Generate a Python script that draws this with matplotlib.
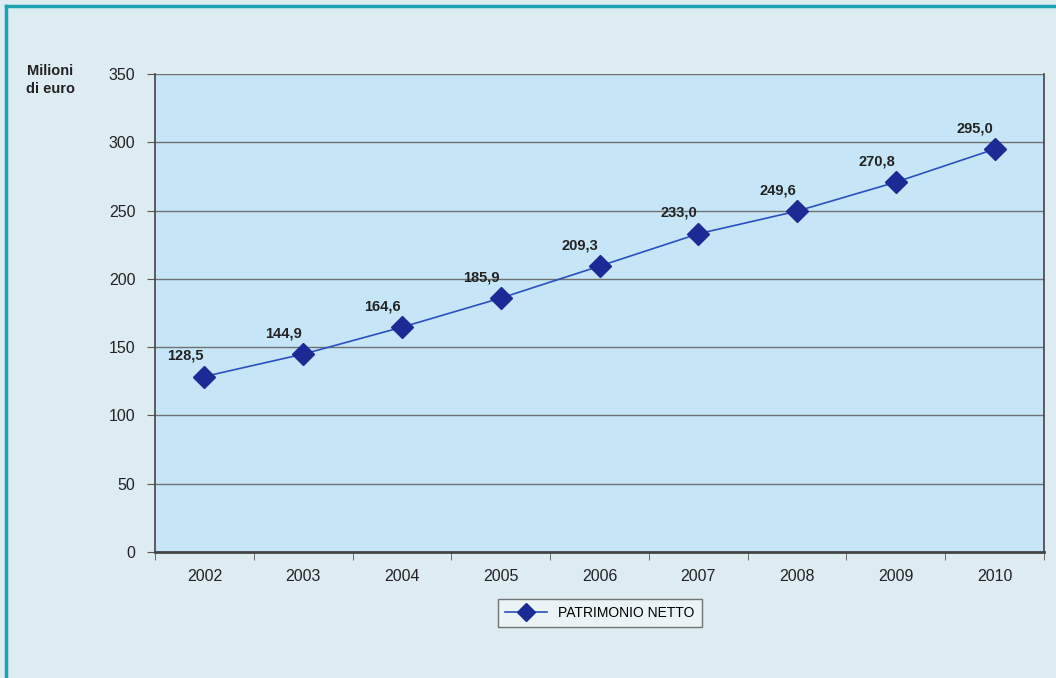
import matplotlib
matplotlib.use("Agg")
import matplotlib.pyplot as plt
from matplotlib.lines import Line2D

years = ["2002", "2003", "2004", "2005", "2006", "2007", "2008", "2009", "2010"]
values = [128.5, 144.9, 164.6, 185.9, 209.3, 233.0, 249.6, 270.8, 295.0]
labels = ["128,5", "144,9", "164,6", "185,9", "209,3", "233,0", "249,6", "270,8", "295,0"]
yticks = [0, 50, 100, 150, 200, 250, 300, 350]

plt.rcParams['font.family'] = ['Liberation Sans', 'DejaVu Sans']

W, H = 1056, 678
fig = plt.figure(figsize=(W / 100, H / 100), dpi=100)
fig.patch.set_facecolor('#dcecf1')

# teal border lines (top and left)
fig.add_artist(Line2D([6 / W, 6 / W], [0, 1 - 6 / H], transform=fig.transFigure, color='#1aa3b0', lw=2.5))
fig.add_artist(Line2D([6 / W, 1], [1 - 6 / H, 1 - 6 / H], transform=fig.transFigure, color='#1aa3b0', lw=2.5))

left, right, top, bottom = 155, 1044, 74, 552
ax = fig.add_axes([left / W, 1 - bottom / H, (right - left) / W, (bottom - top) / H])
ax.set_facecolor('#c6e6f7')

x = list(range(len(years)))
ax.plot(x, values, color='#2a4fc0', lw=1.2, marker='D', markersize=11,
        markerfacecolor='#1c2a96', markeredgecolor='#1c2a96', zorder=3)

for xi, v, lab in zip(x, values, labels):
    ax.annotate(lab, (xi, v), xytext=(-14, 10), textcoords='offset points',
                ha='center', va='bottom', fontsize=10.5, fontweight='bold', color='#222222')

ax.set_xlim(-0.5, len(years) - 0.5)
ax.set_ylim(0, 350)
ax.set_yticks(yticks)
ax.set_yticklabels([str(t) for t in yticks], fontsize=11.5, color='#222222')
ax.yaxis.grid(True, color='#707070', lw=1)
ax.set_axisbelow(True)

ax.set_xticks(x)
ax.set_xticklabels(years, fontsize=11.5, color='#222222')
ax.set_xticks([i - 0.5 for i in range(len(years) + 1)], minor=True)
ax.tick_params(axis='x', which='major', length=0, pad=12)
ax.tick_params(axis='x', which='minor', length=6, color='#555555')
ax.tick_params(axis='y', length=6, color='#555555', pad=8)

for s in ['left', 'bottom', 'right']:
    ax.spines[s].set_color('#444444')
    ax.spines[s].set_linewidth(1.2)
ax.spines['top'].set_visible(False)
ax.spines['bottom'].set_linewidth(2)

fig.text(50 / W, 1 - 80 / H, "Milioni\ndi euro", ha='center', va='center',
         fontsize=10.5, fontweight='bold', color='#222222', linespacing=1.3)

handle = Line2D([], [], color='#2a4fc0', lw=1.2, marker='D', markersize=9,
                markerfacecolor='#1c2a96', markeredgecolor='#1c2a96')
leg = fig.legend([handle], ["PATRIMONIO NETTO"], loc='center',
                 bbox_to_anchor=(600 / W, 1 - 613 / H), fontsize=10,
                 frameon=True, fancybox=False, edgecolor='#555555',
                 facecolor='#eef5f8', handlelength=3, borderpad=0.5)
leg.get_frame().set_linewidth(1)

fig.savefig("out.png", dpi=100, facecolor=fig.get_facecolor())
